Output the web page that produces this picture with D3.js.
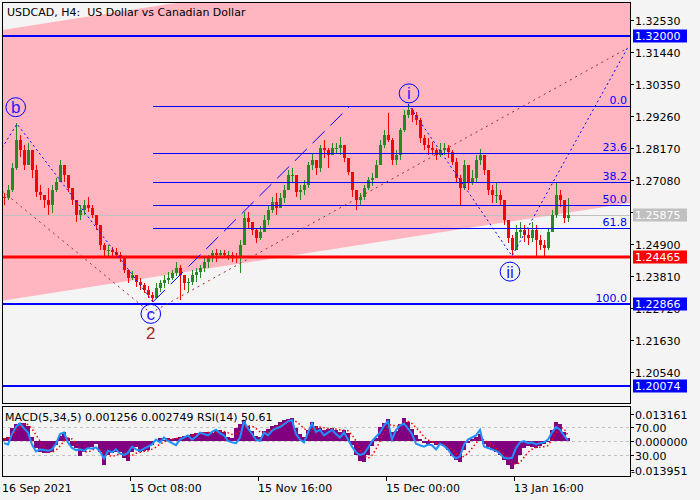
<!DOCTYPE html>
<html><head><meta charset="utf-8">
<script src="https://cdn.jsdelivr.net/npm/d3@7"></script>
<style>body{margin:0;background:#f4f4f4}svg{display:block}text{white-space:pre}</style>
</head><body><svg id="c" width="700" height="500"></svg>
<script>
// ---------- DATA ----------
const titleText = "USDCAD, H4:  US Dollar vs Canadian Dollar";
const timeLabels = ["16 Sep 2021","15 Oct 08:00","15 Nov 16:00","15 Dec 00:00","13 Jan 16:00"];
const timeTickIdx = [0,32,64,96,128];
const priceTicks = [1.32530,1.31440,1.30350,1.29260,1.28170,1.27080,1.25990,1.24900,1.23810,1.22720,1.21630,1.20540];
const hiddenTickLabels = [1.25990];

const firstOpen = 1.2650;
const highs = [
1.2664,1.2691,1.2766,1.2902,1.2861,1.2827,1.2834,1.2810,1.2759,1.2691,
1.2657,1.2681,1.2691,1.2715,1.2776,1.2759,1.2725,1.2674,1.2640,1.2623,
1.2640,1.2650,1.2623,1.2589,1.2555,1.2494,1.2487,1.2480,1.2477,1.2463,
1.2436,1.2402,1.2398,1.2381,1.2374,1.2357,1.2347,1.2327,1.2357,1.2367,
1.2384,1.2395,1.2402,1.2429,1.2419,1.2384,1.2374,1.2402,1.2408,1.2419,
1.2442,1.2453,1.2470,1.2473,1.2470,1.2470,1.2466,1.2463,1.2460,1.2504,
1.2599,1.2599,1.2565,1.2545,1.2551,1.2589,1.2623,1.2650,1.2664,1.2664,
1.2691,1.2742,1.2749,1.2708,1.2691,1.2708,1.2769,1.2800,1.2776,1.2827,
1.2844,1.2817,1.2834,1.2834,1.2855,1.2827,1.2783,1.2735,1.2667,1.2664,
1.2691,1.2718,1.2732,1.2776,1.2844,1.2878,1.2936,1.2851,1.2810,1.2885,
1.2946,1.2967,1.2953,1.2940,1.2919,1.2861,1.2851,1.2837,1.2817,1.2834,
1.2834,1.2827,1.2810,1.2783,1.2725,1.2776,1.2759,1.2742,1.2793,1.2814,
1.2793,1.2742,1.2691,1.2698,1.2674,1.2623,1.2555,1.2521,1.2555,1.2565,
1.2555,1.2545,1.2565,1.2555,1.2521,1.2504,1.2545,1.2606,1.2701,1.2674,
1.2640,1.2647];
const lows = [
1.2623,1.2640,1.2667,1.2742,1.2786,1.2742,1.2759,1.2715,1.2650,1.2640,
1.2613,1.2589,1.2596,1.2667,1.2708,1.2701,1.2667,1.2623,1.2565,1.2572,
1.2589,1.2599,1.2579,1.2538,1.2470,1.2446,1.2449,1.2446,1.2442,1.2429,
1.2391,1.2357,1.2367,1.2344,1.2333,1.2323,1.2306,1.2293,1.2313,1.2327,
1.2340,1.2354,1.2367,1.2381,1.2299,1.2333,1.2327,1.2350,1.2361,1.2374,
1.2395,1.2408,1.2429,1.2429,1.2442,1.2442,1.2436,1.2429,1.2426,1.2391,
1.2487,1.2545,1.2521,1.2494,1.2504,1.2531,1.2555,1.2596,1.2589,1.2616,
1.2630,1.2691,1.2701,1.2650,1.2640,1.2657,1.2681,1.2742,1.2725,1.2735,
1.2783,1.2749,1.2793,1.2800,1.2793,1.2769,1.2725,1.2650,1.2606,1.2623,
1.2640,1.2674,1.2688,1.2715,1.2759,1.2817,1.2837,1.2759,1.2759,1.2776,
1.2871,1.2919,1.2906,1.2895,1.2834,1.2810,1.2793,1.2793,1.2776,1.2786,
1.2793,1.2783,1.2759,1.2701,1.2623,1.2674,1.2674,1.2691,1.2701,1.2759,
1.2725,1.2657,1.2630,1.2630,1.2623,1.2555,1.2494,1.2453,1.2470,1.2511,
1.2497,1.2487,1.2497,1.2449,1.2470,1.2449,1.2470,1.2531,1.2579,1.2616,
1.2562,1.2565];
const closes = [
1.2647,1.2674,1.2749,1.2844,1.2810,1.2759,1.2810,1.2742,1.2667,1.2657,
1.2640,1.2623,1.2674,1.2701,1.2759,1.2725,1.2681,1.2640,1.2589,1.2606,
1.2623,1.2613,1.2589,1.2555,1.2487,1.2470,1.2470,1.2463,1.2453,1.2442,
1.2402,1.2374,1.2384,1.2361,1.2350,1.2333,1.2316,1.2306,1.2340,1.2357,
1.2367,1.2374,1.2391,1.2408,1.2384,1.2357,1.2361,1.2384,1.2395,1.2408,
1.2429,1.2442,1.2460,1.2453,1.2460,1.2453,1.2453,1.2446,1.2442,1.2487,
1.2579,1.2565,1.2538,1.2511,1.2531,1.2572,1.2606,1.2633,1.2613,1.2647,
1.2674,1.2725,1.2725,1.2667,1.2674,1.2691,1.2759,1.2776,1.2749,1.2817,
1.2810,1.2793,1.2817,1.2817,1.2827,1.2783,1.2735,1.2674,1.2640,1.2650,
1.2681,1.2708,1.2715,1.2759,1.2827,1.2861,1.2844,1.2776,1.2793,1.2878,
1.2929,1.2946,1.2929,1.2912,1.2851,1.2827,1.2817,1.2810,1.2793,1.2810,
1.2817,1.2803,1.2769,1.2715,1.2681,1.2759,1.2701,1.2715,1.2776,1.2793,
1.2742,1.2674,1.2657,1.2657,1.2640,1.2572,1.2511,1.2470,1.2531,1.2538,
1.2521,1.2511,1.2538,1.2504,1.2487,1.2477,1.2531,1.2589,1.2657,1.2640,
1.2579,1.25875];

const macd = [
0.0015,0.0019,0.0063,0.0083,0.0088,0.0088,0.0073,0.0019,-0.0034,-0.0054,
-0.0058,-0.0058,-0.0054,-0.0019,0.0024,0.0044,0.0015,-0.0024,-0.0034,-0.0073,
-0.0054,-0.0039,-0.0029,-0.0015,-0.0054,-0.0117,-0.0068,-0.0058,-0.0054,-0.0054,
-0.0083,-0.0097,-0.0054,-0.0029,-0.0054,-0.0049,-0.0044,-0.0019,0.0000,0.0015,
0.0005,0.0015,0.0010,0.0015,0.0019,0.0024,0.0029,0.0034,0.0039,0.0039,
0.0044,0.0044,0.0039,0.0049,0.0054,0.0044,0.0019,0.0015,0.0063,0.0083,
0.0097,0.0073,0.0049,0.0024,0.0019,0.0049,0.0058,0.0073,0.0078,0.0093,
0.0102,0.0107,0.0112,0.0063,0.0034,0.0019,0.0054,0.0093,0.0073,0.0063,
0.0054,0.0058,0.0063,0.0054,0.0044,0.0054,0.0039,-0.0019,-0.0068,-0.0097,
-0.0102,-0.0068,-0.0024,0.0015,0.0068,0.0088,0.0107,0.0044,0.0049,0.0083,
0.0112,0.0093,0.0058,0.0029,0.0010,-0.0010,-0.0015,-0.0010,-0.0019,-0.0015,
-0.0024,-0.0044,-0.0073,-0.0093,-0.0102,-0.0044,-0.0010,0.0010,0.0019,0.0034,
-0.0015,-0.0029,-0.0044,-0.0054,-0.0068,-0.0093,-0.0117,-0.0136,-0.0112,-0.0068,
-0.0034,-0.0024,-0.0029,-0.0034,-0.0024,-0.0015,-0.0005,0.0054,0.0093,0.0083,
0.0044,0.001256];
const signal = [
0.0010,0.0013,0.0030,0.0050,0.0070,0.0080,0.0080,0.0060,0.0030,0.0000,
-0.0030,-0.0050,-0.0056,-0.0045,-0.0025,0.0000,0.0015,0.0010,-0.0010,-0.0040,
-0.0050,-0.0055,-0.0045,-0.0035,-0.0040,-0.0065,-0.0070,-0.0075,-0.0070,-0.0060,
-0.0065,-0.0075,-0.0070,-0.0060,-0.0055,-0.0050,-0.0048,-0.0040,-0.0030,-0.0015,
-0.0005,0.0005,0.0010,0.0012,0.0015,0.0018,0.0022,0.0027,0.0031,0.0035,
0.0038,0.0041,0.0041,0.0043,0.0046,0.0046,0.0040,0.0032,0.0035,0.0048,
0.0065,0.0075,0.0072,0.0060,0.0045,0.0040,0.0044,0.0055,0.0065,0.0075,
0.0088,0.0095,0.0103,0.0095,0.0080,0.0060,0.0050,0.0058,0.0065,0.0068,
0.0065,0.0060,0.0060,0.0058,0.0055,0.0053,0.0050,0.0030,0.0000,-0.0040,
-0.0070,-0.0085,-0.0070,-0.0040,0.0000,0.0040,0.0075,0.0080,0.0070,0.0075,
0.0090,0.0095,0.0085,0.0065,0.0045,0.0020,0.0005,-0.0005,-0.0010,-0.0013,
-0.0017,-0.0025,-0.0040,-0.0060,-0.0080,-0.0075,-0.0060,-0.0035,-0.0010,0.0010,
0.0005,-0.0005,-0.0020,-0.0035,-0.0050,-0.0065,-0.0085,-0.0105,-0.0115,-0.0105,
-0.0080,-0.0055,-0.0040,-0.0032,-0.0030,-0.0028,-0.0022,0.0005,0.0040,0.0065,
0.0060,0.002749];
const rsi = [
47,45,60,70,75,68,62,45,35,38,
37,36,38,46,60,62,48,40,37,38,
36,40,39,41,35,25,36,34,38,32,
30,33,42,38,36,39,42,45,52,48,
55,50,47,44,52,55,58,52,56,62,
60,58,63,66,61,58,50,48,47,55,
78,68,60,52,50,62,58,65,68,70,
74,78,80,60,52,48,62,75,63,66,
58,62,66,60,55,62,52,42,34,30,
32,40,50,56,62,72,78,52,66,72,
75,68,60,46,44,42,45,44,38,46,
43,38,30,25,28,45,52,55,58,66,
42,40,38,36,32,26,25,26,40,48,
50,47,48,45,47,48,52,62,70,66,
58,50.61];

const hLevels = [
  {price:1.32000, color:"#0000ff"},
  {price:1.22866, color:"#0000ff"},
  {price:1.20074, color:"#0000ff"},
  {price:1.24465, color:"#ff0000"}];
const currentPrice = 1.25875;
const fibHigh = 1.2960, fibLow = 1.22866, fibStartIdx = 37.75;
const fibRatios = [0, 23.6, 38.2, 50.0, 61.8, 100.0];
const fibLabels = ["0.0","23.6","38.2","50.0","61.8","100.0"];
const channelUpper = [{i:0,p:1.3219},{i:157,p:1.3552}];
const channelLower = [{i:0,p:1.2297},{i:157,p:1.2630}];
const waveLineA = [{i:0,p:1.2817},{i:3.75,p:1.2899},{i:37.75,p:1.2293}];
const waveLineB = [{i:101.5,p:1.2967},{i:127.5,p:1.2449},{i:156.5,p:1.3161}];
const impulseLine = [{i:37.75,p:1.2293},{i:87,p:1.2960}];
const brownLine = [{i:0,p:1.2671},{i:37.2,p:1.2255},{i:156.5,p:1.3158}];
const waveLabels = [
  {t:"b", i:3.43, p:1.2956},
  {t:"c", i:37.2, p:1.2252},
  {t:"i", i:101.75, p:1.3003},
  {t:"ii", i:127, p:1.2396}];
const waveNumbers = [{t:"2", i:37.2, p:1.2187}];
const macdMax = 0.013161, macdMin = -0.013951;
const rsiLevels = [70, 30];

// ---------- LAYOUT ----------
const svg = d3.select("#c");
const L = 2, R = 630, mTop = 2, mBot = 404, sTop = 406, sBot = 476;
const font = "DejaVu Sans";
const x = d3.scaleLinear().domain([0,157]).range([L,R]);
const y = d3.scaleLinear().domain([1.19484,1.33143]).range([403,2]);
const yM = d3.scaleLinear().domain([macdMin, macdMax]).range([469.6, 414]);
const yR = d3.scaleLinear().domain([0,100]).range([476,406]);

svg.append("rect").attr("width",700).attr("height",500).attr("fill","#f4f4f4");
const defs = svg.append("defs");
defs.append("clipPath").attr("id","cm").append("rect").attr("x",L).attr("y",mTop).attr("width",R-L).attr("height",mBot-mTop);
defs.append("clipPath").attr("id","cs").append("rect").attr("x",L).attr("y",sTop).attr("width",R-L).attr("height",sBot-sTop);

const gm = svg.append("g").attr("clip-path","url(#cm)");
// channel
const poly = [channelUpper[0],channelUpper[1],channelLower[1],channelLower[0]];
gm.append("polygon").attr("points", poly.map(d=>[x(d.i),y(d.p)].join(",")).join(" ")).attr("fill","#ffb6c1");

// current price line
gm.append("line").attr("x1",L).attr("x2",R).attr("y1",Math.round(y(currentPrice))+0.5).attr("y2",Math.round(y(currentPrice))+0.5)
  .attr("stroke","#c0c0c0").attr("stroke-width",1);

// candles
const gc = gm.append("g").attr("shape-rendering","crispEdges");
closes.forEach((c,k)=>{
  const o = k ? closes[k-1] : firstOpen;
  const cx = Math.round(x(k+0.5));
  const col = c >= o ? "#228b22" : "#ff0000";
  const hi = Math.max(highs[k], o, c), lo = Math.min(lows[k], o, c);
  gc.append("rect").attr("x",cx).attr("width",1).attr("y",y(hi)).attr("height",Math.max(1,y(lo)-y(hi))).attr("fill",col);
  const top = y(Math.max(o,c)), bot = y(Math.min(o,c));
  gc.append("rect").attr("x",cx-1).attr("width",3).attr("y",top).attr("height",Math.max(1,bot-top)).attr("fill",col);
});

// fib lines
fibRatios.forEach((r,j)=>{
  const p = fibHigh - r/100*(fibHigh-fibLow);
  const yy = Math.round(y(p))+0.5;
  gm.append("line").attr("x1",x(fibStartIdx)).attr("x2",R).attr("y1",yy).attr("y2",yy).attr("stroke","#0000ff").attr("stroke-width",1);
  gm.append("text").attr("x",627).attr("y",yy-3).attr("text-anchor","end").attr("font-family",font).attr("font-size",11)
    .attr("fill","#0000ff").text(fibLabels[j]);
});

// horizontal levels
hLevels.forEach(d=>{
  const yy = Math.round(y(d.price));
  gm.append("line").attr("x1",L).attr("x2",R).attr("y1",yy).attr("y2",yy).attr("stroke",d.color).attr("stroke-width",d.color==="#ff0000"?3:2);
});

// dotted lines
const ln = d3.line().x(d=>x(d.i)).y(d=>y(d.p));
gm.append("path").attr("d",ln(brownLine)).attr("fill","none").attr("stroke","#a52a2a").attr("stroke-width",1).attr("stroke-dasharray","2,4");
[waveLineA, waveLineB].forEach(w=>{
  gm.append("path").attr("d",ln(w)).attr("fill","none").attr("stroke","#0000ff").attr("stroke-width",1).attr("stroke-dasharray","2,3");
});
gm.append("path").attr("d",ln(impulseLine)).attr("fill","none").attr("stroke","#0000ff").attr("stroke-width",1).attr("stroke-dasharray","17,8");

// wave labels
waveLabels.forEach(d=>{
  const cx = x(d.i), cy = y(d.p);
  gm.append("ellipse").attr("cx",cx).attr("cy",cy).attr("rx",9.8).attr("ry",9.5).attr("fill","none").attr("stroke","#0000ff").attr("stroke-width",1);
  gm.append("text").attr("x",cx).attr("y",cy+6).attr("text-anchor","middle").attr("font-family","Liberation Sans").attr("font-size",17)
    .attr("fill","#2020ff").text(d.t);
});
waveNumbers.forEach(d=>{
  gm.append("text").attr("x",x(d.i)).attr("y",y(d.p)+6).attr("text-anchor","middle").attr("font-family","Liberation Sans").attr("font-size",17)
    .attr("fill","#a52a2a").text(d.t);
});

// title
svg.append("text").attr("x",7).attr("y",16).attr("font-family",font).attr("font-size",11).attr("fill","#000")
  .attr("xml:space","preserve").text(titleText);

// ---------- SUB PANEL ----------
const gs = svg.append("g").attr("clip-path","url(#cs)");
[yR(70), yM(0), yR(30)].forEach(v=>{
  const yy = Math.round(v)+0.5;
  gs.append("line").attr("x1",L).attr("x2",R).attr("y1",yy).attr("y2",yy).attr("stroke","#c0c0c0").attr("stroke-dasharray","3,3");
});
const gh = gs.append("g").attr("shape-rendering","crispEdges");
macd.forEach((v,k)=>{
  const y0 = yM(0), y1 = yM(v);
  gh.append("rect").attr("x",x(k)).attr("width",x(k+1)-x(k)).attr("y",Math.min(y0,y1)).attr("height",Math.max(0.5,Math.abs(y1-y0))).attr("fill","#800080");
});
gs.append("path").attr("d",d3.line().x((d,k)=>x(k+0.5)).y(d=>yM(d))(signal)).attr("fill","none").attr("stroke","#ff0000").attr("stroke-width",1.5).attr("stroke-dasharray","1.5,2.5");
gs.append("path").attr("d",d3.line().x((d,k)=>x(k+0.5)).y(d=>yR(d))(rsi)).attr("fill","none").attr("stroke","#1e90ff").attr("stroke-width",2);

svg.append("text").attr("x",5).attr("y",421).attr("font-family",font).attr("font-size",11).attr("fill","#000")
  .text(`MACD(5,34,5) ${macd[macd.length-1].toFixed(6)} ${signal[signal.length-1].toFixed(6)} RSI(14) ${rsi[rsi.length-1].toFixed(2)}`);

// ---------- FRAMES & AXES ----------
const fr = svg.append("g").attr("shape-rendering","crispEdges").attr("stroke","#000").attr("fill","none");
fr.append("rect").attr("x",L+0.5).attr("y",mTop+0.5).attr("width",R-L).attr("height",mBot-mTop-1);
fr.append("rect").attr("x",L+0.5).attr("y",sTop+0.5).attr("width",R-L).attr("height",sBot-sTop);

const ax = svg.append("g").attr("font-family",font).attr("font-size",11);
priceTicks.forEach(t=>{
  const yy = Math.round(y(t))+0.5;
  ax.append("line").attr("x1",R).attr("x2",R+4).attr("y1",yy).attr("y2",yy).attr("stroke","#000").attr("shape-rendering","crispEdges");
  if (!hiddenTickLabels.includes(t))
    ax.append("text").attr("x",635).attr("y",yy+4).attr("fill","#000").text(t.toFixed(5));
});
// sub-panel right labels
const subTicks = [
  {y:yM(macdMax), t:macdMax.toFixed(6)},
  {y:yR(rsiLevels[0]), t:rsiLevels[0].toFixed(2)},
  {y:yM(0), t:(0).toFixed(6)},
  {y:yR(rsiLevels[1]), t:rsiLevels[1].toFixed(2)},
  {y:yM(macdMin), t:macdMin.toFixed(6)}];
subTicks.forEach(d=>{
  const yy = Math.round(d.y)+0.5;
  ax.append("line").attr("x1",R).attr("x2",R+4).attr("y1",yy).attr("y2",yy).attr("stroke","#000").attr("shape-rendering","crispEdges");
  const neg = d.t.startsWith("-");
  ax.append("text").attr("x",neg?631:635).attr("y",yy+4).attr("fill","#000").text(d.t);
});
// price boxes
const boxes = hLevels.map(d=>({p:d.price, fill:d.color})).concat([{p:currentPrice, fill:"#c0c0c0"}]);
boxes.forEach(b=>{
  const yy = Math.round(y(b.p));
  ax.append("rect").attr("x",633).attr("y",yy-6.5).attr("width",54).attr("height",13).attr("fill",b.fill);
  ax.append("text").attr("x",635).attr("y",yy+4).attr("fill","#fff").text(b.p.toFixed(5));
});
// time axis
timeTickIdx.forEach((ti,j)=>{
  const xx = Math.round(x(ti))+0.5;
  if (j>0) ax.append("line").attr("x1",xx).attr("x2",xx).attr("y1",sBot).attr("y2",sBot+5).attr("stroke","#000").attr("shape-rendering","crispEdges");
  ax.append("text").attr("x",x(ti)).attr("y",492).attr("fill","#000").text(timeLabels[j]);
});
</script>
</body></html>
